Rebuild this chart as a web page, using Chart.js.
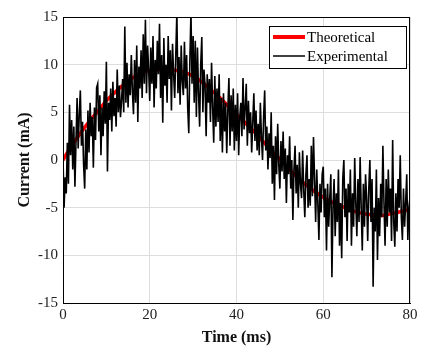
<!DOCTYPE html>
<html>
<head>
<meta charset="utf-8">
<script src="https://cdn.jsdelivr.net/npm/chart.js@4/dist/chart.umd.min.js"></script>
<style>
  html, body { margin: 0; padding: 0; background: #fff; }
  #wrap { width: 421px; height: 347px; }
</style>
</head>
<body>
<div id="wrap"><canvas id="chart" width="421" height="347"></canvas></div>
<script>
// theoretical curve, read every 2 ms
var theoTime = [0, 2, 4, 6, 8, 10, 12, 14, 16, 18, 20, 22, 24, 26, 28, 30, 32, 34, 36, 38, 40,
    42, 44, 46, 48, 50, 52, 54, 56, 58, 60, 62, 64, 66, 68, 70, 72, 74, 76, 78, 80];
var theoCurrent = [0, 1.5, 2.8, 4.0, 5.1, 6.2, 7.1, 7.9, 8.6, 9.1, 9.4, 9.5, 9.5, 9.4, 9.2, 8.8,
    8.2, 7.4, 6.6, 5.7, 4.8, 3.9, 3.0, 2.0, 1.0, 0.1, -0.9, -1.8, -2.6, -3.3, -3.9, -4.4, -4.8,
    -5.2, -5.5, -5.7, -5.8, -5.8, -5.6, -5.4, -5.2];

// experimental samples, one every 0.25 ms (one row = 1 ms)
var sampleStep = 0.25;
var expCurrent = [
    0.3, -5.0, -1.8, -3.5,
    1.8, -2.5, 5.8, 0.5,
    4.2, -1.0, 3.5, -2.8,
    2.0, 6.5, 1.2, 4.8,
    7.3, 1.5, 4.0, -0.5,
    -3.0, 3.2, -1.0, 5.2,
    0.8, 6.0, 2.5, 4.5,
    -0.8, 5.5, 2.1, 7.6,
    8.0, 3.0, 6.8, 0.5,
    5.5, 2.5, 7.2, 3.8,
    10.3, -1.2, 6.0, 4.2,
    7.5, 3.0, 8.2, 4.6,
    6.5, 3.5, 9.5, 5.0,
    7.8, 4.5, 6.2, 8.5,
    5.0, 14.0, 6.0, 10.2,
    5.5, 9.0, 6.8, 11.0,
    7.2, 4.8, 10.5, 6.0,
    12.0, 4.0, 9.8, 7.5,
    11.5, 6.5, 13.2, 8.0,
    14.7, 7.0, 12.0, 9.5,
    6.2, 11.8, 8.0, 13.0,
    5.5, 10.5, 7.5, 12.5,
    9.0, 14.3, 6.5, 11.0,
    3.9, 12.8, 7.8, 10.0,
    6.0, 13.0, 8.5, 11.5,
    5.2, 12.2, 9.0, 6.5,
    11.0, 15.5, 7.0, 10.8,
    5.8, 12.0, 8.2, 6.8,
    12.4, 7.5, 11.0, 5.5,
    2.8, 10.5, 15.5, 8.0,
    13.0, 6.0, 12.5, 4.5,
    11.8, 7.0, 3.5, 10.0,
    12.9, 5.0, 9.5, 7.8,
    2.5, 9.0, 6.0, 8.5,
    4.0, 10.2, 5.5, 1.8,
    8.8, 3.5, 7.5, 4.0,
    9.0, 2.0, 6.5, 0.8,
    7.0, 3.0, 6.0, 0.7,
    5.2, 8.6, 1.5, 6.8,
    3.0, 7.5, 1.0, 5.8,
    2.0, 7.0, 0.5, 4.5,
    6.0, 2.5, 8.6, 3.2,
    5.5, 8.0, 1.5, 6.2,
    2.8, 5.0, 0.8, 4.0,
    7.0, 2.0, 5.2, 1.0,
    3.8, 0.5, 6.0, 2.5,
    0.0, 4.5, 7.3, 1.0,
    3.5, -1.0, 2.8, 0.2,
    5.0, -2.5, 1.5, -4.2,
    2.5, -1.5, 3.8, -0.5,
    -3.0, 2.0, -1.2, 3.0,
    -2.0, 1.2, -4.5, 0.5,
    -1.5, 2.5, -3.0, 0.0,
    -6.3, -1.0, 1.5, -3.5,
    -0.5, -5.0, 0.8, -2.5,
    -4.0, 1.0, -3.2, -6.0,
    -1.5, 0.5, -5.0, -2.0,
    -4.8, 1.5, -3.8, 2.4,
    -2.0, -6.5, -1.0, -4.5,
    -8.4, -2.5, -5.5, -1.5,
    -0.7, -6.0, -3.0, -9.5,
    -2.5, -7.0, -4.0, -1.5,
    -12.3, -5.0, -2.0, -8.0,
    -3.5, -6.5, -1.0, -9.0,
    -4.5, -10.3, -2.0, 0.0,
    -6.0, -3.0, -8.5, -2.5,
    -5.5, -1.0, -9.0, -3.5,
    -7.0, 0.2, -4.5, -8.0,
    -2.0, -6.5, 0.3, -5.0,
    -9.5, -2.5, -7.0, -1.5,
    -4.0, -8.5, -3.0, 0.0,
    -6.5, -2.0, -13.3, -5.0,
    -7.5, -1.0, -10.5, -4.0,
    -8.0, -2.5, -6.0, 1.5,
    -4.5, -9.0, -2.0, -7.0,
    -1.0, -5.5, -3.0, -8.5,
    2.1, -6.5, -9.1, -3.5,
    -7.5, -2.0, -5.0, 0.5,
    -6.0, -8.4, -3.0, -7.0,
    -4.5, -1.5, -8.4, -5.0,
    -3.9
];

var xTicks = [0, 20, 40, 60, 80];
var yTicks = [-15, -10, -5, 0, 5, 10, 15];

var serif = '"Liberation Serif", "Times New Roman", serif';

var theoPoints = theoTime.map(function (t, i) { return { x: t, y: theoCurrent[i] }; });
var expPoints = expCurrent.map(function (v, i) { return { x: i * sampleStep, y: v }; });

// box around the axes + legend inside the plot, MATLAB style
var boxLegend = {
    id: 'boxLegend',
    afterDraw: function (chart) {
        var c = chart.ctx, a = chart.chartArea;
        c.save();
        c.strokeStyle = '#000';
        c.lineWidth = 1;
        c.strokeRect(a.left + 0.5, a.top + 0.5, a.right - a.left - 1, a.bottom - a.top);

        var ds = chart.data.datasets;
        var items = [ds[1], ds[0]];
        var w = 137, h = 42;
        var lx = a.right - w - 4, ly = a.top + 9;
        c.fillStyle = '#fff';
        c.fillRect(lx, ly, w, h);
        c.strokeStyle = '#000';
        c.lineWidth = 1;
        c.strokeRect(lx + 0.5, ly + 0.5, w, h);
        c.font = '15px ' + serif;
        c.textBaseline = 'middle';
        items.forEach(function (d, i) {
            var yy = ly + 11 + i * 19;
            c.strokeStyle = d.borderColor;
            c.lineWidth = d.label === 'Theoretical' ? 4 : 1.5;
            c.beginPath();
            c.moveTo(lx + 4, yy);
            c.lineTo(lx + 36, yy);
            c.stroke();
            c.fillStyle = '#000';
            c.fillText(d.label, lx + 38, yy + 1);
        });
        c.restore();
    }
};

new Chart(document.getElementById('chart'), {
    type: 'line',
    data: {
        datasets: [{
            label: 'Experimental',
            data: expPoints,
            borderColor: '#000000',
            borderWidth: 1.6,
            pointRadius: 0,
            tension: 0,
            order: 0
        }, {
            label: 'Theoretical',
            data: theoPoints,
            borderColor: '#ff0000',
            borderWidth: 3.5,
            pointRadius: 0,
            tension: 0.4,
            order: 1
        }]
    },
    options: {
        responsive: false,
        animation: false,
        layout: { padding: { top: 17, right: 11, left: 4, bottom: 0 } },
        plugins: { legend: { display: false }, tooltip: { enabled: false } },
        scales: {
            x: {
                type: 'linear',
                min: 0, max: 80,
                afterBuildTicks: function (s) { s.ticks = xTicks.map(function (v) { return { value: v }; }); },
                afterFit: function (s) { s.height = 44; },
                grid: { color: '#dddddd', drawTicks: false },
                border: { color: '#000', width: 1 },
                ticks: { color: '#222', padding: 3, font: { family: serif, size: 15 } },
                title: { display: true, text: 'Time (ms)', color: '#111', padding: { top: 0, bottom: 0 },
                    font: { family: serif, size: 16, weight: 'bold' } }
            },
            y: {
                min: -15, max: 15,
                afterBuildTicks: function (s) { s.ticks = yTicks.map(function (v) { return { value: v }; }); },
                afterFit: function (s) { s.width = 59; },
                grid: { color: '#dddddd', drawTicks: false },
                border: { color: '#000', width: 1 },
                ticks: { color: '#222', padding: 5, font: { family: serif, size: 15 } },
                title: { display: true, text: 'Current (mA)', color: '#111', padding: { top: 11, bottom: 0 },
                    font: { family: serif, size: 16, weight: 'bold' } }
            }
        }
    },
    plugins: [boxLegend]
});
</script>
</body>
</html>
